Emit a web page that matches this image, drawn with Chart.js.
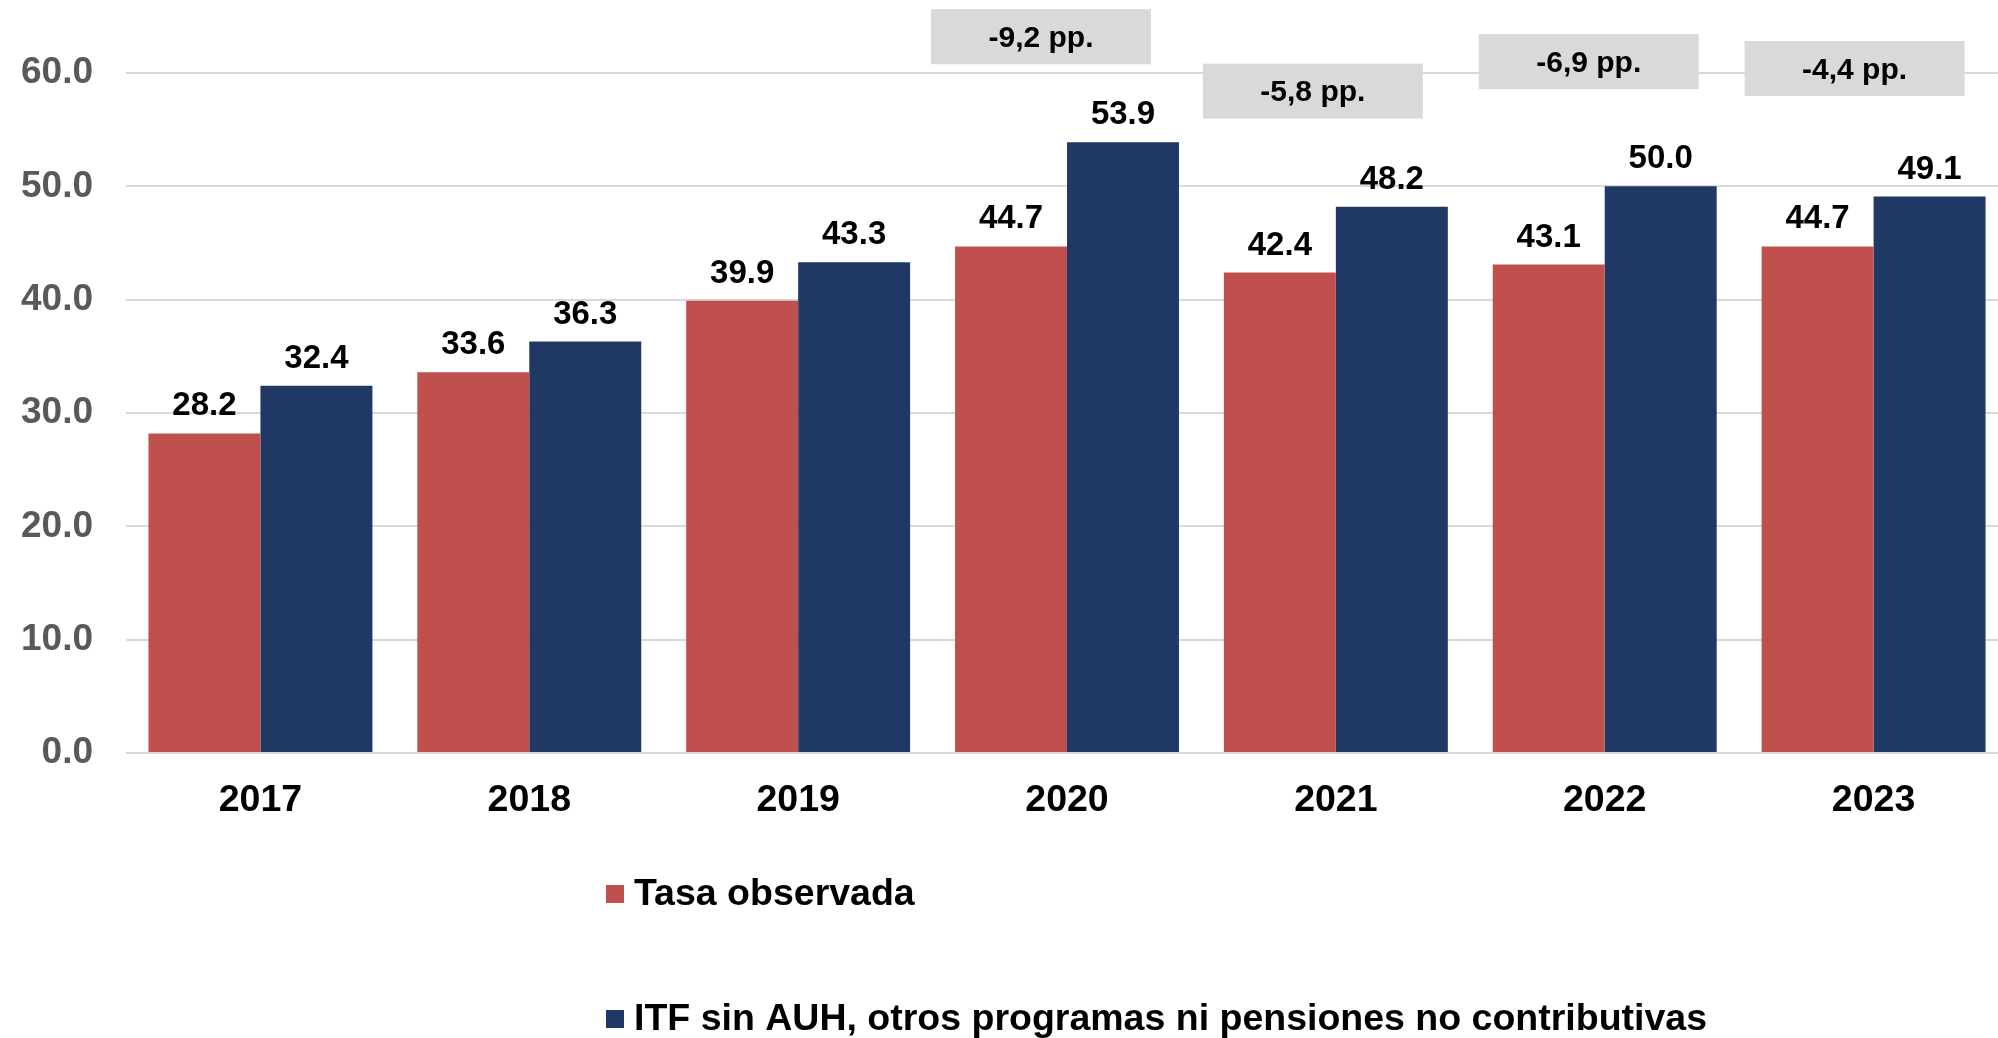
<!DOCTYPE html>
<html>
<head>
<meta charset="utf-8">
<script src="https://cdn.jsdelivr.net/npm/chart.js@4"></script>
<style>
    html, body { margin: 0; padding: 0; background: #fff; overflow: hidden; }
    #wrap { width: 2008px; height: 1038px; }
</style>
</head>
<body>
<div id="wrap"><canvas id="bar-chart"></canvas></div>
<script>
// Data
var years = ['2017', '2018', '2019', '2020', '2021', '2022', '2023'];
var tasaObservada = [28.2, 33.6, 39.9, 44.7, 42.4, 43.1, 44.7];
var itfSinProgramas = [32.4, 36.3, 43.3, 53.9, 48.2, 50.0, 49.1];
var yTicks = [0, 10, 20, 30, 40, 50, 60];
var seriesNames = ['Tasa observada', 'ITF sin AUH, otros programas ni pensiones no contributivas'];
var gapYears = ['2020', '2021', '2022', '2023'];

var fontFamily = '"Liberation Sans", Arial, sans-serif';

// value above every bar
var valueLabels = {
    id: 'valueLabels',
    afterDatasetsDraw: function (chart) {
        var ctx = chart.ctx;
        ctx.save();
        ctx.font = 'bold 33px ' + fontFamily;
        ctx.fillStyle = '#000';
        ctx.textAlign = 'center';
        ctx.textBaseline = 'middle';
        chart.data.datasets.forEach(function (ds, i) {
            chart.getDatasetMeta(i).data.forEach(function (bar, j) {
                ctx.fillText(ds.data[j].toFixed(1), bar.x, bar.y - 27);
            });
        });
        ctx.restore();
    }
};

// grey boxes with the gap between the two series
var gapBoxes = {
    id: 'gapBoxes',
    afterDraw: function (chart, args, opts) {
        var ctx = chart.ctx;
        var xs = chart.scales.x, ys = chart.scales.y;
        ctx.save();
        ctx.font = 'bold 30px ' + fontFamily;
        ctx.textAlign = 'center';
        ctx.textBaseline = 'middle';
        gapYears.forEach(function (yr, k) {
            var j = years.indexOf(yr);
            var gap = tasaObservada[j] - itfSinProgramas[j];
            var txt = gap.toFixed(1).replace('.', ',') + ' pp.';
            var cx = xs.getPixelForValue(j) + opts.dx[k];
            var cy = ys.getPixelForValue(opts.levels[k]);
            ctx.fillStyle = '#d9d9d9';
            ctx.fillRect(cx - opts.w / 2, cy - opts.h / 2, opts.w, opts.h);
            ctx.fillStyle = '#000';
            ctx.fillText(txt, cx, cy + 2);
        });
        ctx.restore();
    }
};

// legend stacked in two rows
var legendRows = {
    id: 'legendRows',
    afterDraw: function (chart, args, opts) {
        var ctx = chart.ctx;
        ctx.save();
        ctx.font = 'bold 37.5px ' + fontFamily;
        ctx.textAlign = 'left';
        ctx.textBaseline = 'middle';
        chart.data.datasets.forEach(function (ds, i) {
            var cy = opts.top + i * opts.gap;
            ctx.fillStyle = ds.backgroundColor;
            ctx.fillRect(opts.left, cy - 9, 18, 18);
            ctx.fillStyle = '#000';
            ctx.fillText(ds.label, opts.left + 28, cy + 1);
        });
        ctx.restore();
    }
};

var ctx = document.getElementById('bar-chart').getContext('2d');
var barChart = new Chart(ctx, {
    type: 'bar',
    data: {
        labels: years,
        datasets: [
            {
                label: seriesNames[0],
                data: tasaObservada,
                backgroundColor: '#c0504d',
                categoryPercentage: 0.833,
                barPercentage: 1.0,
            },
            {
                label: seriesNames[1],
                data: itfSinProgramas,
                backgroundColor: '#203864',
                categoryPercentage: 0.833,
                barPercentage: 1.0,
            },
        ],
    },
    options: {
        responsive: true,
        maintainAspectRatio: false,
        animation: false,
        layout: { padding: { top: 73, left: 0, right: 0, bottom: 0 } },
        scales: {
            x: {
                grid: { display: false },
                border: { display: false },
                ticks: {
                    color: '#000',
                    padding: 17,
                    font: { family: fontFamily, size: 37.5, weight: 'bold' },
                },
                afterFit: function (s) { s.height = 285; },
            },
            y: {
                min: yTicks[0],
                max: yTicks[yTicks.length - 1],
                afterBuildTicks: function (s) {
                    s.ticks = yTicks.map(function (v) { return { value: v }; });
                },
                grid: { color: '#d9d9d9', lineWidth: 2, drawTicks: false },
                border: { display: false },
                ticks: {
                    color: '#595959',
                    padding: 33,
                    font: { family: fontFamily, size: 37, weight: 'bold' },
                    callback: function (v) { return Number(v).toFixed(1); },
                },
                afterFit: function (s) { s.width = 126; },
            },
        },
        plugins: {
            legend: { display: false },
            tooltip: { enabled: false },
            gapBoxes: { dx: [-26, -23, -16, -19], w: 220, h: 55, levels: [63.2, 58.4, 61.0, 60.4] },
            legendRows: { left: 606, top: 894, gap: 125 },
        },
    },
    plugins: [valueLabels, gapBoxes, legendRows],
});
</script>
</body>
</html>
